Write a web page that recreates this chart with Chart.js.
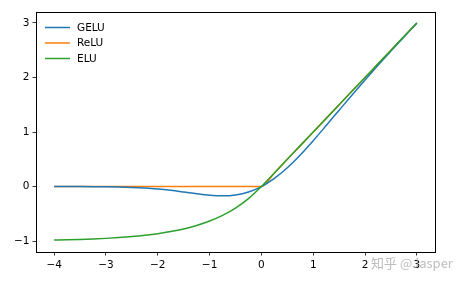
<!DOCTYPE html>
<html><head><meta charset="utf-8">
<script src="https://cdn.jsdelivr.net/npm/chart.js@4"></script>
<style>html,body{margin:0;padding:0;background:#fff}canvas{display:block}</style>
</head><body>
<canvas id="c" width="467" height="283"></canvas>
<script>
const xs = [-4,-3.75,-3.5,-3.25,-3,-2.75,-2.5,-2.25,-2,-1.75,-1.5,-1.25,-1,-0.75,-0.5,-0.25,0,0.25,0.5,0.75,1,1.25,1.5,1.75,2,2.25,2.5,2.75,3];
const geluVals = [0,-0.0003,-0.0008,-0.0019,-0.004,-0.0082,-0.0155,-0.0275,-0.0455,-0.0701,-0.1002,-0.132,-0.1587,-0.17,-0.1543,-0.1003,0,0.1497,0.3457,0.58,0.8413,1.118,1.3998,1.6799,1.9545,2.2225,2.4845,2.7418,2.996];
const reluVals = [0,0,0,0,0,0,0,0,0,0,0,0,0,0,0,0,0,0.25,0.5,0.75,1,1.25,1.5,1.75,2,2.25,2.5,2.75,3];
const eluVals = [-0.9817,-0.9765,-0.9698,-0.9612,-0.9502,-0.9361,-0.9179,-0.8946,-0.8647,-0.8262,-0.7769,-0.7135,-0.6321,-0.5276,-0.3935,-0.2212,0,0.25,0.5,0.75,1,1.25,1.5,1.75,2,2.25,2.5,2.75,3];
const labels = ['GELU','ReLU','ELU'];
const xTicks = [-4,-3,-2,-1,0,1,2,3];
const yTicks = [-1,0,1,2,3];
const colors = ['#1f77b4','#ff7f0e','#2ca02c'];
const FONT = "'DejaVu Sans', sans-serif";

function pts(v){ return xs.map((x,i)=>({x:x,y:v[i]})); }
const fmt = v => (v<0 ? '\u2212'+Math.abs(v) : String(v));

const frame = {
  id:'frame',
  afterDatasetsDraw(chart){
    const {ctx, chartArea:a} = chart;
    ctx.save();
    ctx.strokeStyle = '#000'; ctx.lineWidth = 1;
    ctx.strokeRect(Math.round(a.left)+0.5, Math.round(a.top)+0.5, Math.round(a.right-a.left), Math.round(a.bottom-a.top));
    // legend
    ctx.font = "10.5px "+FONT; ctx.textBaseline='middle'; ctx.fillStyle='#000';
    const ys=[27.5,43,58.5];
    chart.data.datasets.forEach((d,i)=>{
      ctx.strokeStyle=d.borderColor; ctx.lineWidth=1.5;
      ctx.beginPath(); ctx.moveTo(45,ys[i]); ctx.lineTo(70,ys[i]); ctx.stroke();
      ctx.fillText(d.label,77,ys[i]+0.5);
    });
    // watermark
    ctx.font = "13px 'Noto Sans CJK SC', sans-serif";
    ctx.fillStyle='rgba(160,160,160,0.7)';
    ctx.textBaseline='middle';
    ctx.fillText('知乎 @Jasper',371,263);
    ctx.restore();
  }
};

new Chart(document.getElementById('c'),{
  type:'line',
  data:{datasets:[
    {label:labels[0],data:pts(geluVals),borderColor:colors[0],order:2},
    {label:labels[1],data:pts(reluVals),borderColor:colors[1],order:3},
    {label:labels[2],data:pts(eluVals),borderColor:colors[2],order:1}
  ].map(d=>Object.assign(d,{borderWidth:1.5,pointRadius:0,fill:false,tension:0,cubicInterpolationMode:'monotone'}))},
  options:{
    responsive:false,animation:false,
    layout:{padding:{left:0,top:12,right:32,bottom:0}},
    plugins:{legend:{display:false},tooltip:{enabled:false}},
    scales:{
      x:{type:'linear',min:-4.35,max:3.35,
        afterBuildTicks(s){s.ticks=xTicks.map(v=>({value:v}));},
        afterFit(s){s.height=31;},
        grid:{drawOnChartArea:false,drawTicks:true,tickLength:3.5,color:'#000',lineWidth:0.8},
        border:{display:false},
        ticks:{color:'#000',font:{family:FONT,size:10.5},padding:3,maxRotation:0,callback:v=>fmt(v)}},
      y:{type:'linear',min:-1.2,max:3.2,
        afterBuildTicks(s){s.ticks=yTicks.map(v=>({value:v}));},
        afterFit(s){s.width=36;},
        grid:{drawOnChartArea:false,drawTicks:true,tickLength:3.5,color:'#000',lineWidth:0.8},
        border:{display:false},
        ticks:{color:'#000',font:{family:FONT,size:10.5},padding:3,callback:v=>fmt(v)}}
    }
  },
  plugins:[frame]
});
</script>
</body></html>
